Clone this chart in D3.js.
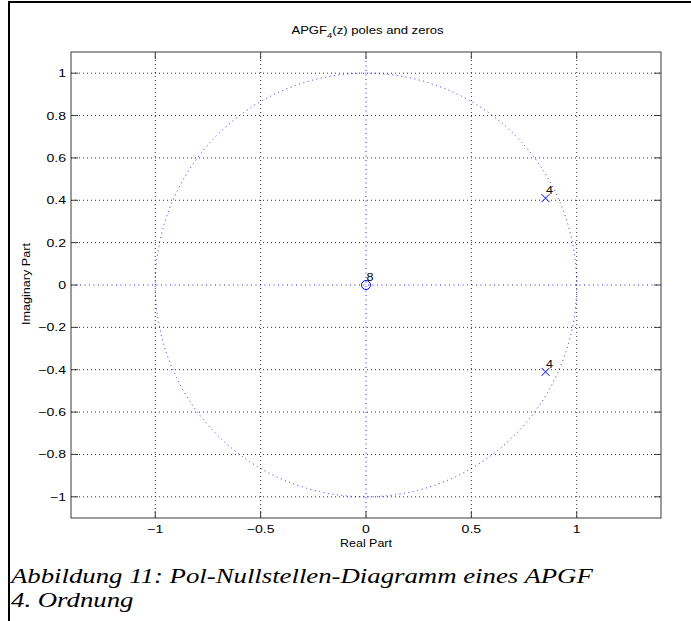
<!DOCTYPE html>
<html>
<head>
<meta charset="utf-8">
<script src="https://cdn.jsdelivr.net/npm/d3@7"></script>
<style>
  body { margin: 0; background: #fff; }
  svg { display: block; }
  .cap { font-family: "Liberation Serif", "Times New Roman", Times, serif; font-style: italic; font-size: 21px; }
</style>
</head>
<body>
<svg id="chart" width="691" height="621"></svg>
<script>
// Zeros and poles of the 4th-order APGF transfer function
const zerosRe = [0];
const zerosIm = [0];
const zerosMult = [8];
const polesRe = [0.852, 0.852];
const polesIm = [0.41, -0.41];
const polesMult = [4, 4];

// Axis ticks and limits
const xTickValues = [-1, -0.5, 0, 0.5, 1];
const yTickValues = [-1, -0.8, -0.6, -0.4, -0.2, 0, 0.2, 0.4, 0.6, 0.8, 1];
const xDomain = [-1.4, 1.4];
const yDomain = [-1.1, 1.1];

// Texts
const titleMain = "APGF";
const titleSub = "4";
const titleRest = "(z) poles and zeros";
const xLabel = "Real Part";
const yLabel = "Imaginary Part";
const captionLines = ["Abbildung 11: Pol-Nullstellen-Diagramm eines APGF", "4. Ordnung"];

const svg = d3.select("#chart");
const plot = { left: 71, right: 661, top: 52, bottom: 518 };
const sans = "'Liberation Sans', Arial, Helvetica, sans-serif";
const blue = "#0000ff";
const axisColor = "#3a3a3a";

const x = d3.scaleLinear().domain(xDomain).range([plot.left, plot.right]);
const y = d3.scaleLinear().domain(yDomain).range([plot.bottom, plot.top]);

// Widen a text horizontally to a given width (the figure's lettering is broad)
function fitWidth(sel, targetW) {
  const w = sel.node().getBBox().width;
  sel.attr("transform", `scale(${targetW / w},1)`);
  return targetW / w;
}

// Frame lines of the figure box
svg.append("line").attr("x1", 9).attr("x2", 9).attr("y1", 1).attr("y2", 621)
  .attr("stroke", "#000").attr("stroke-width", 2);
svg.append("line").attr("x1", 8).attr("x2", 691).attr("y1", 2).attr("y2", 2)
  .attr("stroke", "#000").attr("stroke-width", 2);

// Dotted grid
const grid = svg.append("g").attr("stroke", "#333").attr("stroke-width", 1)
  .attr("stroke-dasharray", "1,3");
xTickValues.filter(v => v !== 0).forEach(v => {
  grid.append("line").attr("x1", x(v)).attr("x2", x(v))
    .attr("y1", plot.top).attr("y2", plot.bottom);
});
yTickValues.filter(v => v !== 0).forEach(v => {
  grid.append("line").attr("x1", plot.left).attr("x2", plot.right)
    .attr("y1", y(v)).attr("y2", y(v));
});

// Blue dotted real/imaginary axes and unit circle
const ref = svg.append("g").attr("stroke", blue).attr("stroke-width", 1)
  .attr("stroke-dasharray", "1,3.5").attr("fill", "none").attr("opacity", 0.85);
ref.append("line").attr("x1", plot.left).attr("x2", plot.right)
  .attr("y1", y(0)).attr("y2", y(0));
ref.append("line").attr("x1", x(0)).attr("x2", x(0))
  .attr("y1", plot.top).attr("y2", plot.bottom);
ref.append("ellipse").attr("cx", x(0)).attr("cy", y(0))
  .attr("rx", x(1) - x(0)).attr("ry", y(0) - y(1));

// Zeros: circles
const zeros = zerosRe.map((re, i) => ({ re, im: zerosIm[i], m: zerosMult[i] }));
svg.append("g").selectAll("circle").data(zeros).join("circle")
  .attr("cx", d => x(d.re)).attr("cy", d => y(d.im)).attr("r", 4.5)
  .attr("fill", "none").attr("stroke", blue).attr("stroke-width", 1);

// Poles: crosses
const poles = polesRe.map((re, i) => ({ re, im: polesIm[i], m: polesMult[i] }));
const s = 4;
svg.append("g").selectAll("path").data(poles).join("path")
  .attr("d", d => {
    const cx = x(d.re), cy = y(d.im);
    return `M${cx - s},${cy - s}L${cx + s},${cy + s}M${cx - s},${cy + s}L${cx + s},${cy - s}`;
  })
  .attr("stroke", blue).attr("stroke-width", 1).attr("fill", "none");

// Multiplicity labels
[...zeros, ...poles].filter(d => d.m > 1).forEach(d => {
  const g = svg.append("g").attr("transform", `translate(${x(d.re) + 0.5},${y(d.im) - 4})`);
  g.append("text").text(d.m).attr("font-family", sans).attr("font-size", 10.5)
    .attr("fill", "#000").attr("transform", "scale(1.2,1)");
});

// Axes box
svg.append("rect").attr("x", plot.left).attr("y", plot.top)
  .attr("width", plot.right - plot.left).attr("height", plot.bottom - plot.top)
  .attr("fill", "none").attr("stroke", axisColor).attr("stroke-width", 1);

// Inward ticks on all four sides
const tl = 7;
const ticks = svg.append("g").attr("stroke", axisColor).attr("stroke-width", 1);
xTickValues.forEach(v => {
  ticks.append("line").attr("x1", x(v)).attr("x2", x(v)).attr("y1", plot.bottom).attr("y2", plot.bottom - tl);
  ticks.append("line").attr("x1", x(v)).attr("x2", x(v)).attr("y1", plot.top).attr("y2", plot.top + tl);
});
yTickValues.forEach(v => {
  ticks.append("line").attr("x1", plot.left).attr("x2", plot.left + tl).attr("y1", y(v)).attr("y2", y(v));
  ticks.append("line").attr("x1", plot.right).attr("x2", plot.right - tl).attr("y1", y(v)).attr("y2", y(v));
});

// Tick labels
const fmt = d3.format("");
const tickSX = 1.28;
xTickValues.forEach(v => {
  svg.append("g").attr("transform", `translate(${x(v)},${plot.bottom + 15})`)
    .append("text").text(fmt(v)).attr("text-anchor", "middle")
    .attr("font-family", sans).attr("font-size", 11).attr("fill", "#000")
    .attr("transform", `scale(${tickSX},1)`);
});
yTickValues.forEach(v => {
  svg.append("g").attr("transform", `translate(${plot.left - 5},${y(v) + 4})`)
    .append("text").text(fmt(v)).attr("text-anchor", "end")
    .attr("font-family", sans).attr("font-size", 11).attr("fill", "#000")
    .attr("transform", `scale(${tickSX},1)`);
});

// Title with subscript
const titleG = svg.append("g").attr("transform", `translate(367.5,34)`);
const title = titleG.append("text").attr("text-anchor", "middle")
  .attr("font-family", sans).attr("font-size", 11).attr("fill", "#000");
title.append("tspan").text(titleMain);
title.append("tspan").text(titleSub).attr("font-size", 8).attr("dy", 4);
title.append("tspan").text(titleRest).attr("dy", -4);
fitWidth(title, 153);

// Axis labels
const xl = svg.append("g").attr("transform", `translate(366,547)`)
  .append("text").text(xLabel).attr("text-anchor", "middle")
  .attr("font-family", sans).attr("font-size", 10.5).attr("fill", "#000");
fitWidth(xl, 52);

const yl = svg.append("g").attr("transform", `translate(30,284) rotate(-90)`)
  .append("text").text(yLabel).attr("text-anchor", "middle")
  .attr("font-family", sans).attr("font-size", 10.5).attr("fill", "#000");
fitWidth(yl, 82);

// Caption below the figure
const cap1 = svg.append("g").attr("transform", `translate(11,583)`)
  .append("text").attr("class", "cap").text(captionLines[0]).attr("fill", "#000");
const capSX = fitWidth(cap1, 585);
svg.append("g").attr("transform", `translate(11,607)`)
  .append("text").attr("class", "cap").text(captionLines[1]).attr("fill", "#000")
  .attr("transform", `scale(${capSX},1)`);
</script>
</body>
</html>
